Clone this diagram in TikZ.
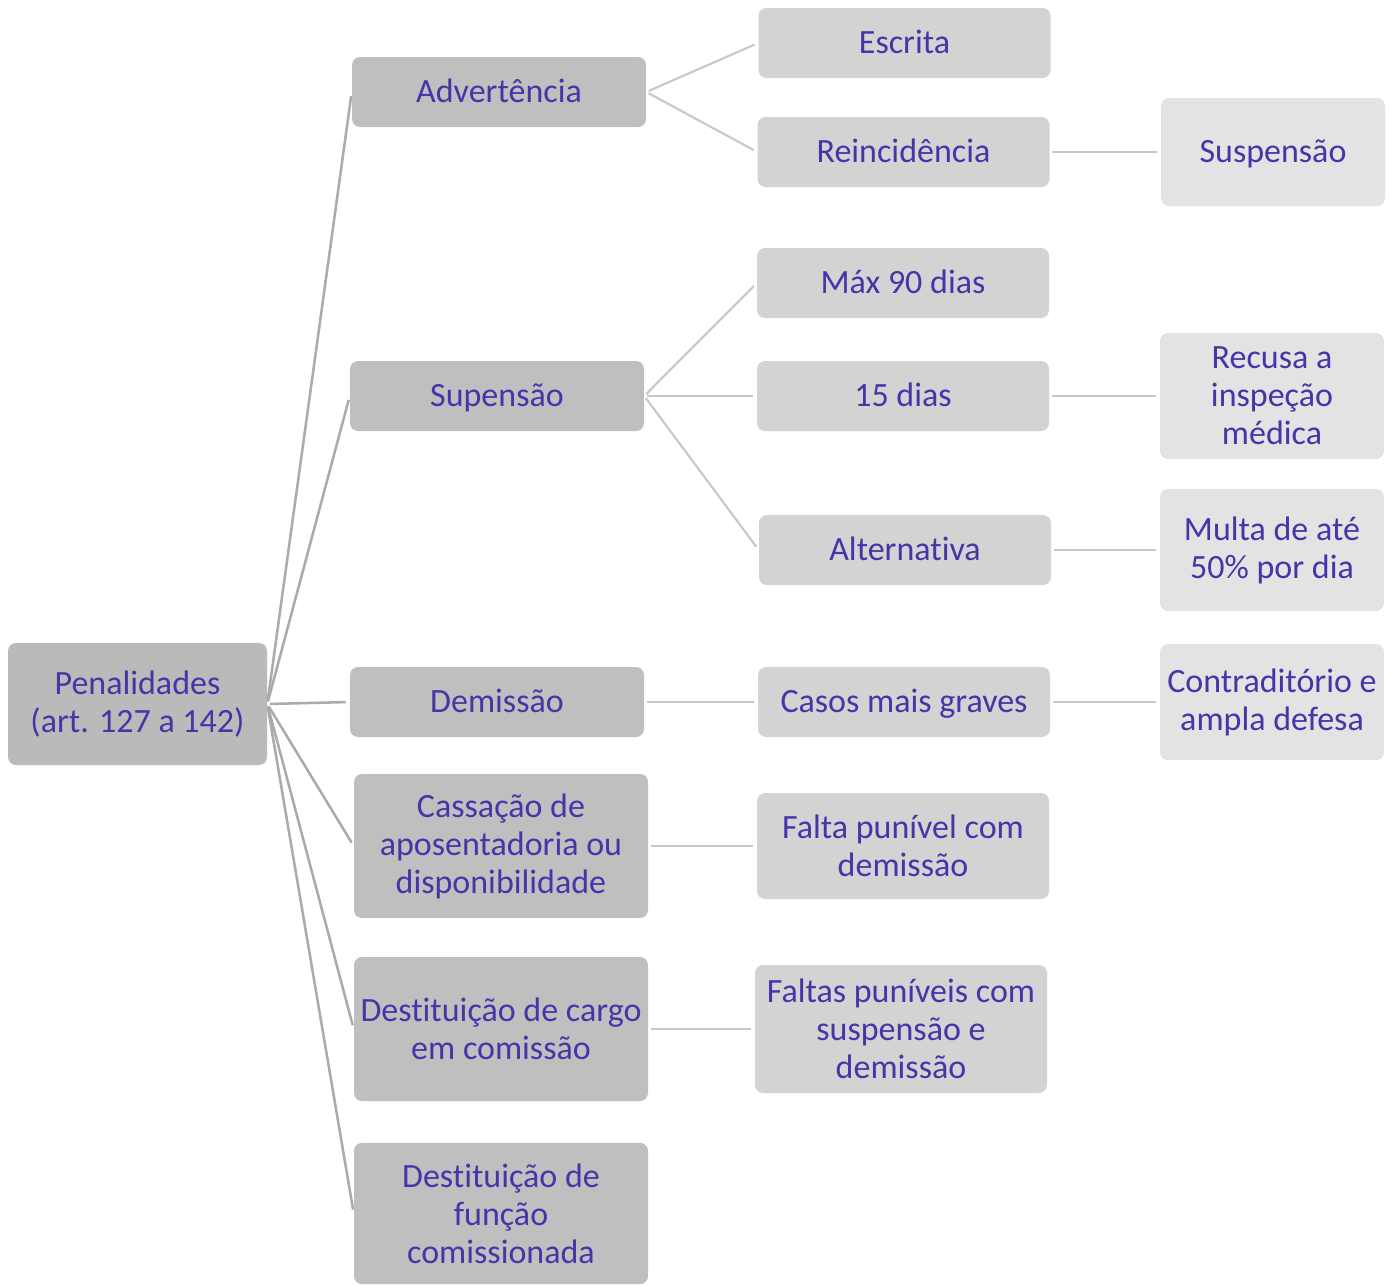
\documentclass[tikz,border=0pt]{standalone}
\usepackage{fontspec}
\setmainfont{Carlito}[Ligatures=NoCommon]
\definecolor{txt}{RGB}{72,52,168}
\definecolor{gA}{RGB}{186,186,186}
\definecolor{gB}{RGB}{191,191,191}
\definecolor{gC}{RGB}{211,211,211}
\definecolor{gD}{RGB}{227,227,227}
\definecolor{lnA}{RGB}{171,171,171}
\definecolor{lnB}{RGB}{200,200,200}
\begin{document}
\begin{tikzpicture}[x=0.75pt,y=-0.75pt,
  box/.style={rounded corners=6pt, align=center, text=txt, inner sep=1pt,
    font=\fontsize{25.5}{28.5}\selectfont},
  oneline/.style={text height=21pt, text depth=5pt},
  rootbox/.style={box, fill=gA, minimum width=194.25pt, minimum height=91.5pt},
  lone/.style={box, fill=gB, minimum width=220.5pt},
  ltwo/.style={box, fill=gC, minimum width=219pt},
  lthree/.style={box, fill=gD, minimum width=168pt},
  cA/.style={draw=lnA, line width=1.9pt, shorten <=2pt, shorten >=3pt},
  cB/.style={draw=lnB, line width=1.6pt, shorten <=2pt, shorten >=3pt}]
\useasboundingbox (0,0) rectangle (1395,1285);
% root
\node[rootbox] (root) at (137.5,704) {Penalidades\\(art. 127 a 142)};
% level 1
\node[lone, oneline, minimum height=52.5pt] (adv) at (499,92) {Advertência};
\node[lone, oneline, minimum height=52.5pt] (sup) at (497,396) {Supensão};
\node[lone, oneline, minimum height=52.5pt] (dem) at (497,702) {Demissão};
\node[lone, minimum height=108pt] (cas) at (501,846) {Cassação de\\aposentadoria ou\\disponibilidade};
\node[lone, minimum height=108pt] (dcc) at (501,1029) {Destituição de cargo\\em comissão};
\node[lone, minimum height=106pt] (dfc) at (501,1213.5) {Destituição de\\função\\comissionada};
% level 2
\node[ltwo, oneline, minimum height=52.5pt] (esc) at (904.5,43) {Escrita};
\node[ltwo, oneline, minimum height=52.5pt] (rei) at (903.5,152) {Reincidência};
\node[ltwo, oneline, minimum height=52.5pt] (max) at (903,283) {Máx 90 dias};
\node[ltwo, oneline, minimum height=52.5pt] (q15) at (903,396) {15 dias};
\node[ltwo, oneline, minimum height=52.5pt] (alt) at (905,550) {Alternativa};
\node[ltwo, oneline, minimum height=52.5pt] (cmg) at (904,702) {Casos mais graves};
\node[ltwo, minimum height=79.5pt] (fpd) at (903,846) {Falta punível com\\demissão};
\node[ltwo, minimum height=96pt] (fps) at (901,1029) {Faltas puníveis com\\suspensão e\\demissão};
% level 3
\node[lthree, oneline, minimum height=81pt] (sus) at (1273,152) {Suspensão};
\node[lthree, minimum height=94.5pt] (rec) at (1272,396) {Recusa a\\inspeção\\médica};
\node[lthree, minimum height=91.5pt] (mul) at (1272,550) {Multa de até\\50\% por dia};
\node[lthree, minimum height=87pt] (con) at (1272,702) {Contraditório e\\ampla defesa};
% connectors root
\foreach \n in {adv,sup,dem,cas,dcc,dfc}
  \draw[cA] (root.east) -- (\n.west);
% level 1 -> 2
\draw[cB] (adv.east) -- (esc.west);
\draw[cB] (adv.east) -- (rei.west);
\draw[cB] (sup.east) -- (max.west);
\draw[cB] (sup.east) -- (q15.west);
\draw[cB] (sup.east) -- (alt.west);
\draw[cB] (dem.east) -- (cmg.west);
\draw[cB] (cas.east) -- (fpd.west);
\draw[cB] (dcc.east) -- (fps.west);
% level 2 -> 3
\draw[cB] (rei.east) -- (sus.west);
\draw[cB] (q15.east) -- (rec.west);
\draw[cB] (alt.east) -- (mul.west);
\draw[cB] (cmg.east) -- (con.west);
\end{tikzpicture}
\end{document}
